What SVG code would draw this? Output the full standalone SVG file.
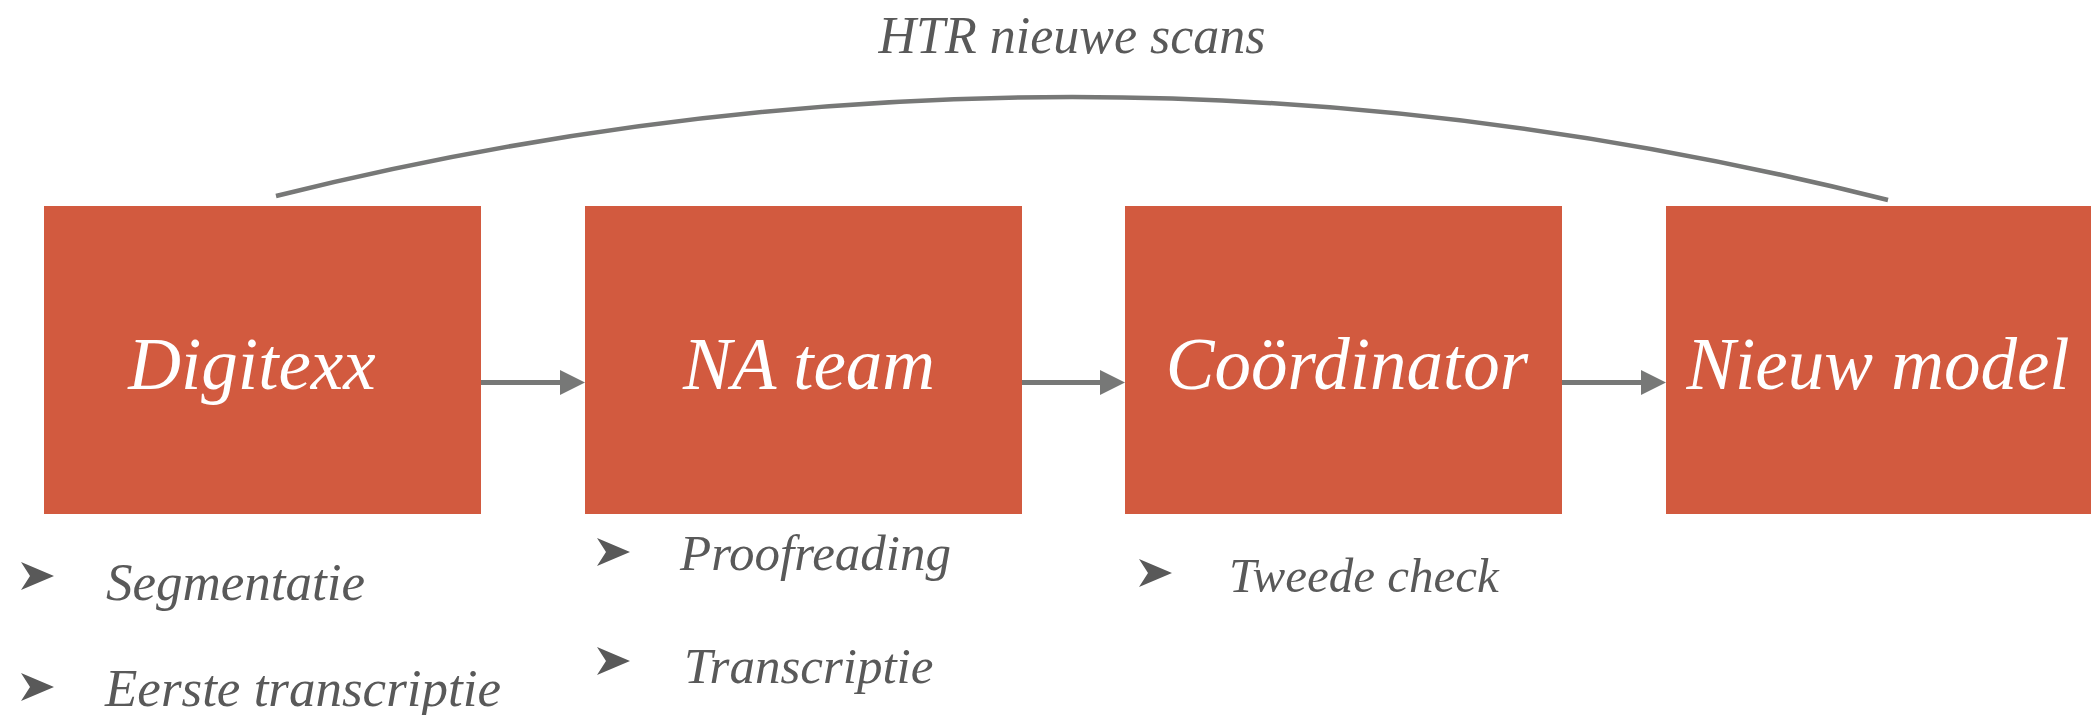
<svg xmlns="http://www.w3.org/2000/svg" width="2091" height="715" viewBox="0 0 2091 715">
  <defs>
    <marker id="ah" markerUnits="userSpaceOnUse" markerWidth="25" markerHeight="25" refX="2" refY="12.5" orient="auto">
      <path d="M0,0 L25,12.5 L0,25 z" fill="#777877"/>
    </marker>
    <polygon id="bullet" points="0,-14 33,0 0,14 9,0"/>
  </defs>
  <style>
    .box { fill: #D25A3F; }
    .btxt { font-family: "Liberation Serif", "DejaVu Serif", serif; font-style: italic; font-size: 73px; fill: #FFFFFF; text-anchor: middle; }
    .conn { stroke: #777877; stroke-width: 5; fill: none; }
    .arc { stroke: #777877; stroke-width: 4.5; fill: none; }
    .item { font-family: "Liberation Serif", "DejaVu Serif", serif; font-style: italic; font-size: 51px; fill: #595959; }
    .big { font-size: 53px; }
    .small { font-size: 49px; }
    .title { font-family: "Liberation Serif", "DejaVu Serif", serif; font-style: italic; font-size: 52px; fill: #595959; text-anchor: middle; }
    .bul { fill: #595959; }
  </style>
  <rect width="2091" height="715" fill="#FFFFFF"/>

  <g id="connectors">
    <path class="arc" d="M276,196 Q1078,-4 1888,200"/>
    <line class="conn" x1="481" y1="382.5" x2="562" y2="382.5" marker-end="url(#ah)"/>
    <line class="conn" x1="1022" y1="382.5" x2="1102" y2="382.5" marker-end="url(#ah)"/>
    <line class="conn" x1="1562" y1="382.5" x2="1643" y2="382.5" marker-end="url(#ah)"/>
  </g>

  <g id="title">
    <text class="title" x="1072" y="53">HTR nieuwe scans</text>
  </g>

  <g id="node-digitexx">
    <rect class="box" x="44" y="206" width="437" height="308"/>
    <text class="btxt" x="252" y="389">Digitexx</text>
  </g>
  <g id="node-na-team">
    <rect class="box" x="585" y="206" width="437" height="308"/>
    <text class="btxt" x="809" y="389">NA team</text>
  </g>
  <g id="node-coordinator">
    <rect class="box" x="1125" y="206" width="437" height="308"/>
    <text class="btxt" x="1347" y="389">Coördinator</text>
  </g>
  <g id="node-nieuw-model">
    <rect class="box" x="1666" y="206" width="437" height="308"/>
    <text class="btxt" x="1878" y="389">Nieuw model</text>
  </g>

  <g id="list-digitexx">
    <use href="#bullet" class="bul" x="21" y="576"/>
    <text class="item big" x="106" y="600">Segmentatie</text>
    <use href="#bullet" class="bul" x="21" y="687"/>
    <text class="item big" x="105" y="706">Eerste transcriptie</text>
  </g>
  <g id="list-na-team">
    <use href="#bullet" class="bul" x="597" y="552"/>
    <text class="item" x="680" y="570">Proofreading</text>
    <use href="#bullet" class="bul" x="597" y="661"/>
    <text class="item" x="684" y="683">Transcriptie</text>
  </g>
  <g id="list-coordinator">
    <use href="#bullet" class="bul" x="1139" y="573"/>
    <text class="item small" x="1229" y="592">Tweede check</text>
  </g>
</svg>
